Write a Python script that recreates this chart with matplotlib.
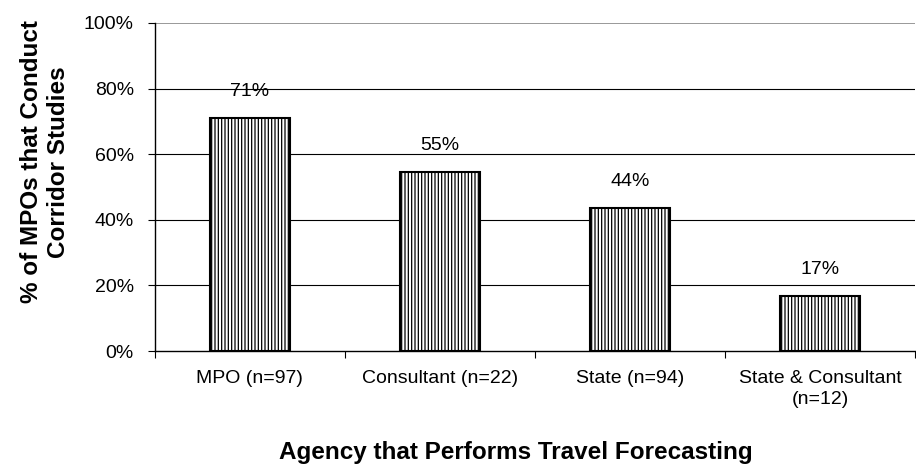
import matplotlib
matplotlib.use("Agg")
import matplotlib.pyplot as plt
import numpy as np

plt.rcParams['font.family'] = ['Liberation Sans', 'DejaVu Sans']
plt.rcParams['hatch.color'] = '#a0a0a0'
plt.rcParams['hatch.linewidth'] = 0.9

categories = ["MPO (n=97)", "Consultant (n=22)", "State (n=94)", "State & Consultant\n(n=12)"]
values = [71.13, 54.55, 43.62, 16.67]
yticks = [0, 20, 40, 60, 80, 100]

fig = plt.figure(figsize=(9.16, 4.68), dpi=100)
ax = fig.add_axes([0.169, 0.25, 0.83, 0.701])

x = np.arange(len(categories))
bars = ax.bar(x, values, width=0.42, facecolor='white', edgecolor='black',
              linewidth=1.5, hatch='|||||', zorder=3)
for xi, v in zip(x, values):
    ax.text(xi, v + 5.5, f"{v:.0f}%", ha='center', va='bottom', fontsize=14)

ax.set_xlim(-0.5, len(categories) - 0.5)
ax.set_ylim(0, 100)
ax.set_yticks(yticks)
ax.set_yticklabels([f"{t}%" for t in yticks], fontsize=14)
for t in yticks[1:-1]:
    ax.axhline(t, color='black', linewidth=0.8, zorder=1)
ax.axhline(100, color='#888888', linewidth=1.2, zorder=1)

ax.set_xticks(np.arange(-0.5, len(categories) + 0.5, 1))
ax.set_xticklabels([])
ax.set_xticks(x, minor=True)
ax.set_xticklabels(categories, minor=True, fontsize=14, linespacing=1.3)
ax.tick_params(axis='x', which='minor', length=0, pad=14)
ax.tick_params(axis='x', which='major', length=5, direction='out')
ax.tick_params(axis='y', length=5, direction='out', pad=10)

for s in ['top', 'right']:
    ax.spines[s].set_visible(False)
ax.spines['left'].set_linewidth(1.0)
ax.spines['bottom'].set_linewidth(1.0)

fig.text(45 / 916, 1 - 162 / 468, "% of MPOs that Conduct\nCorridor Studies",
         rotation=90, ha='center', va='center', multialignment='center',
         fontsize=17.5, fontweight='bold', linespacing=1.2)
fig.text(516 / 916, 1 - 453 / 468, "Agency that Performs Travel Forecasting",
         ha='center', va='center', fontsize=17.5, fontweight='bold')

fig.savefig("out.png", dpi=100)
